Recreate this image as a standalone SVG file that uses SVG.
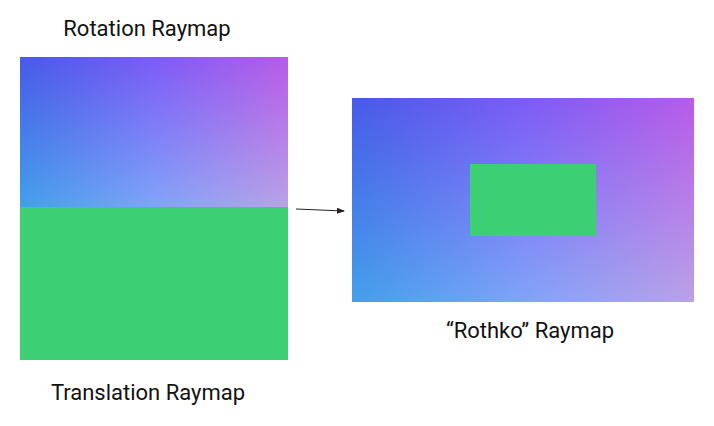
<svg xmlns="http://www.w3.org/2000/svg" width="714" height="426" viewBox="0 0 714 426">
<defs>
<linearGradient id="top" x1="0" y1="0" x2="1" y2="0">
<stop offset="0" stop-color="#485ae8"/>
<stop offset="0.5" stop-color="#7c5cf6"/>
<stop offset="1" stop-color="#b85be8"/>
</linearGradient>
<linearGradient id="bot" x1="0" y1="0" x2="1" y2="0">
<stop offset="0" stop-color="#42a0ea"/>
<stop offset="0.5" stop-color="#80a4f8"/>
<stop offset="1" stop-color="#baa2e6"/>
</linearGradient>
<linearGradient id="vfade" x1="0" y1="0" x2="0" y2="1">
<stop offset="0" stop-color="#fff" stop-opacity="0"/>
<stop offset="1" stop-color="#fff" stop-opacity="1"/>
</linearGradient>
<mask id="mL" maskContentUnits="userSpaceOnUse"><rect x="20" y="57" width="268" height="150" fill="url(#vfade)"/></mask>
<mask id="mR" maskContentUnits="userSpaceOnUse"><rect x="352" y="98" width="342" height="204" fill="url(#vfade)"/></mask>
<marker id="ah" markerWidth="8" markerHeight="6" refX="7" refY="3" orient="auto" markerUnits="userSpaceOnUse">
<path d="M0,0 L8,3 L0,6 Z" fill="#222"/>
</marker>
<style>
.lbl{font-family:Roboto,"Liberation Sans",sans-serif;font-size:22px;fill:#111;text-anchor:middle}
.green{fill:#3dcf73}
</style>
</defs>
<g id="rotation">
<rect x="20" y="57" width="268" height="150" fill="url(#top)"/>
<rect x="20" y="57" width="268" height="150" fill="url(#bot)" mask="url(#mL)"/>
<text class="lbl" x="147" y="36">Rotation Raymap</text>
</g>
<g id="translation">
<rect class="green" x="20" y="207" width="268" height="153"/>
<text class="lbl" x="148" y="400">Translation Raymap</text>
</g>
<g id="rothko">
<rect x="352" y="98" width="342" height="204" fill="url(#top)"/>
<rect x="352" y="98" width="342" height="204" fill="url(#bot)" mask="url(#mR)"/>
<rect class="green" x="470" y="164" width="126" height="72"/>
<text class="lbl" x="530" y="338">“Rothko” Raymap</text>
</g>
<g id="connectors">
<line x1="296" y1="209" x2="344" y2="211" stroke="#222" stroke-width="1" marker-end="url(#ah)"/>
</g>
</svg>
